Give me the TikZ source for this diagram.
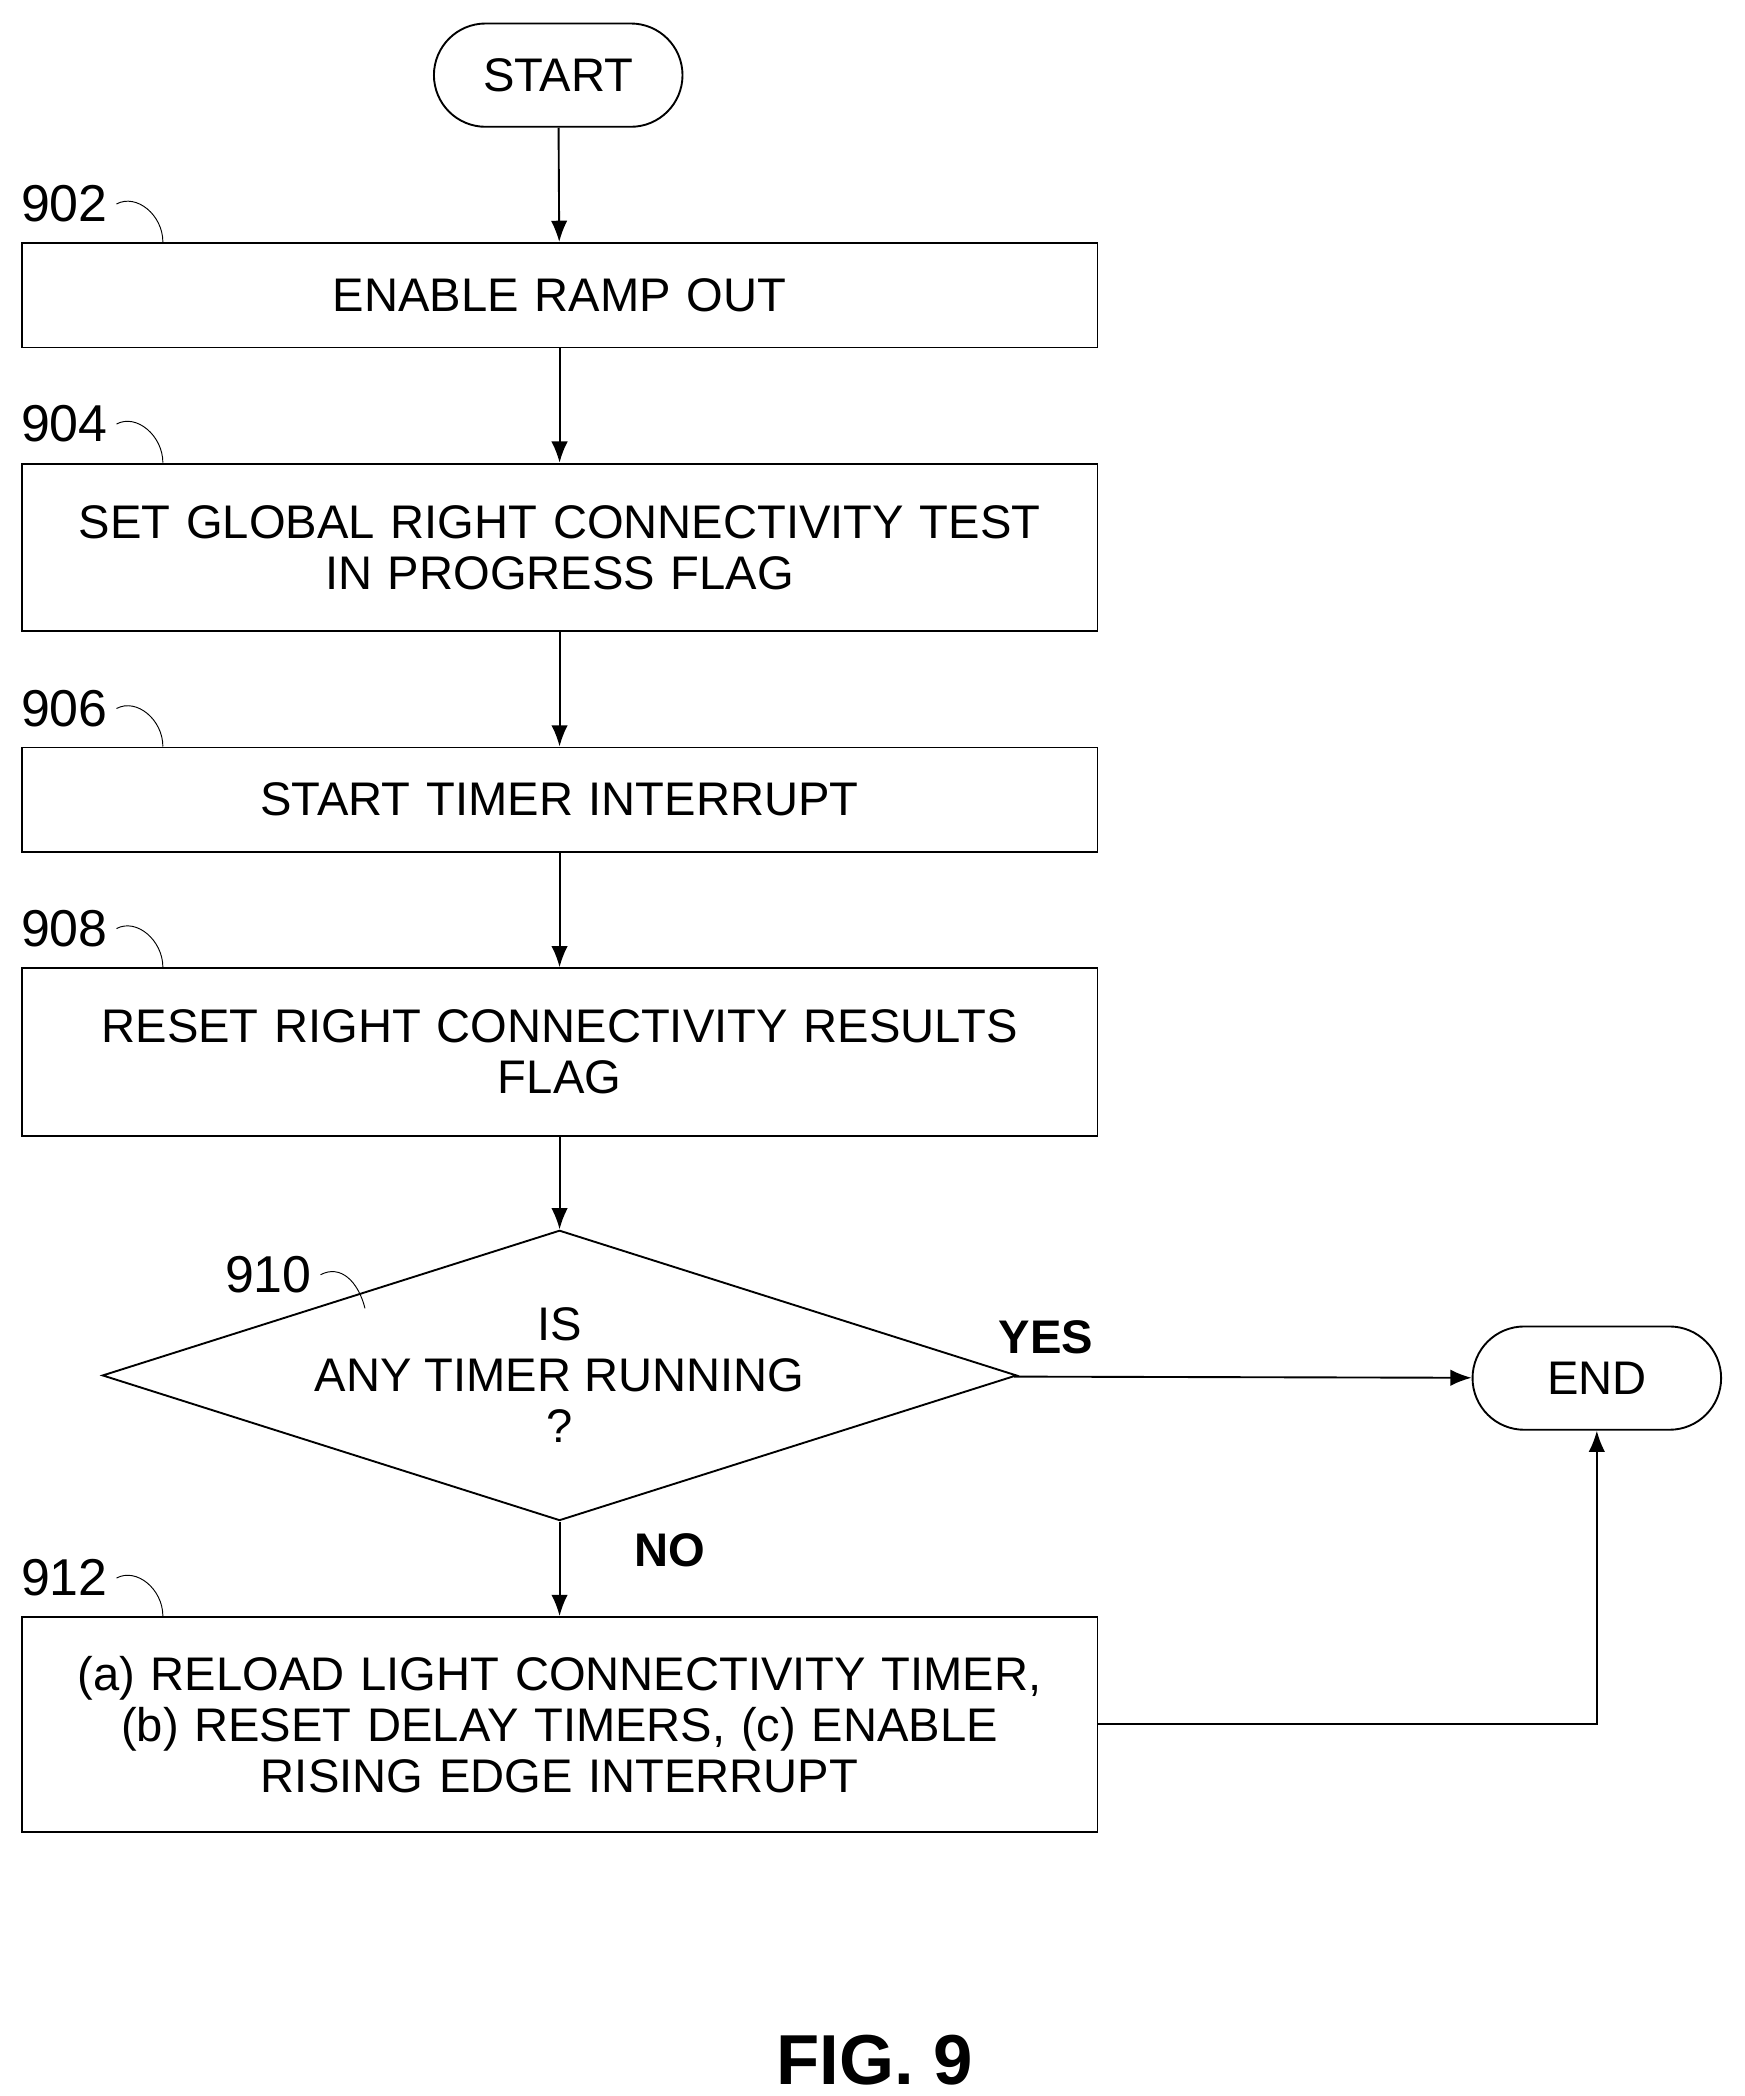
\documentclass[tikz,border=0pt]{standalone}
\usepackage{fontspec}
\setmainfont{Liberation Sans}
\usetikzlibrary{shapes.geometric,shapes.misc,arrows.meta,positioning,calc}
\begin{document}
\begin{tikzpicture}[
  x=0.02cm, y=-0.02cm,
  thick,
  font=\fontsize{20}{21.6}\selectfont,
  >={Latex[length=9pt,width=7pt]},
  block/.style={draw, rectangle, minimum width=16.04cm, text width=15.6cm, align=center, inner sep=0pt},
  term/.style={draw, rounded rectangle, minimum width=3.94cm, minimum height=1.54cm},
  ref/.style={font=\fontsize{22}{24}\selectfont},
  bold/.style={font=\fontsize{20}{22}\selectfont\bfseries}
]
\useasboundingbox (0,0) rectangle (1300,1562);
\node[term] (start) at (416,56) {START};
\node[block, minimum height=1.56cm] (b902) at (417,220) {ENABLE RAMP OUT};
\node[block, minimum height=2.5cm] (b904) at (417,408) {SET GLOBAL RIGHT CONNECTIVITY TEST\\IN PROGRESS FLAG};
\node[block, minimum height=1.56cm] (b906) at (417,596) {START TIMER INTERRUPT};
\node[block, minimum height=2.5cm] (b908) at (417,784) {RESET RIGHT CONNECTIVITY RESULTS\\FLAG};
\node[draw, diamond, aspect=3.15, minimum width=11.6cm, minimum height=3.68cm, inner sep=0pt, align=center] (d910) at (417,1025) {IS\\ANY TIMER RUNNING\\?};
\node[term] (end) at (1190,1027) {END};
\node[block, minimum height=3.2cm] (b912) at (417,1285) {(a) RELOAD LIGHT CONNECTIVITY TIMER,\\(b) RESET DELAY TIMERS, (c) ENABLE\\RISING EDGE INTERRUPT};

% reference numerals
\foreach \n/\y in {902/152, 904/316, 906/528, 908/692, 912/1176}{
  \node[ref] (l\n) at (48,\y) {\n};
  \draw[thin] (l\n.east) .. controls +(15,-8) and +(0,-20) .. ($(b\n.north west)+(106,0)$);
}
\node[ref] (l910) at (200,950) {910};
\draw[thin] (l910.east) .. controls +(15,-8) and +(-5,-20) .. (272,975);

% connectors
\draw[->] (start) -- (b902);
\draw[->] (b902) -- (b904);
\draw[->] (b904) -- (b906);
\draw[->] (b906) -- (b908);
\draw[->] (b908) -- (d910);
\draw[->] (d910) -- node[bold, pos=0.07, above=6pt] (yes) {YES} (end);
\draw[->] (d910) -- node[bold, pos=0.3, right=28pt] (no) {NO} (b912);
\draw[->] (b912.east) -| (end.south);

\node[font=\fontsize{30}{32}\selectfont\bfseries] (fig) at (652,1535) {FIG. 9};
\end{tikzpicture}
\end{document}
